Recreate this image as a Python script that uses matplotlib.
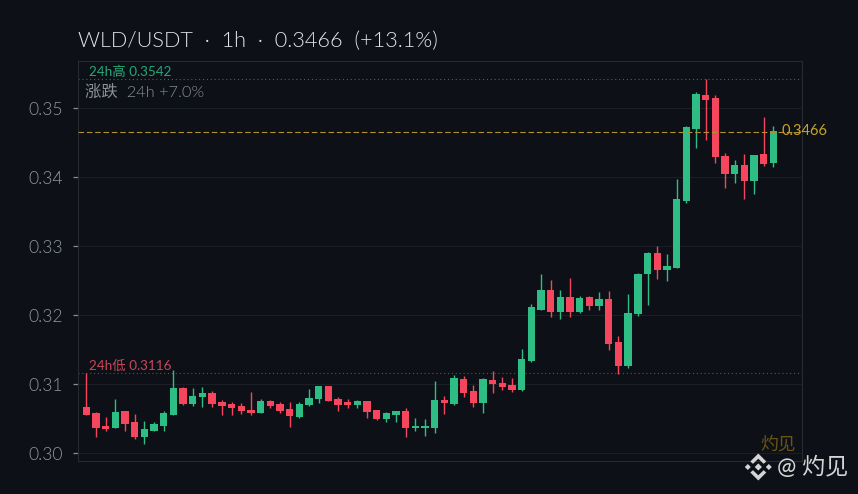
import matplotlib
matplotlib.use("Agg")
import matplotlib.pyplot as plt
from matplotlib.patches import Polygon
from matplotlib.transforms import IdentityTransform

W, H = 858, 494
opens = [.3067,.3058,.3040,.3037,.3061,.3045,.3024,.3032,.3040,.3056,.3095,.3071,.3082,.3087,.3074,.3071,.3069,.3063,
         .3058,.3076,.3071,.3064,.3053,.3070,.3079,.3098,.3079,.3074,.3070,.3076,.3063,.3050,.3056,.3061,.3037,.3037,
         .3037,.3077,.3071,.3108,.3090,.3073,.3106,.3102,.3099,.3092,.3134,.3208,.3237,.3205,.3227,.3205,.3227,.3214,
         .3224,.3161,.3127,.3202,.3260,.3290,.3266,.3269,.3366,.3470,.3519,.3515,.3431,.3405,.3418,.3395,.3434,.3421]
highs = [.3116,.3060,.3053,.3079,.3061,.3057,.3047,.3045,.3061,.3121,.3096,.3094,.3096,.3090,.3077,.3074,.3073,.3089,
         .3079,.3077,.3074,.3074,.3074,.3093,.3098,.3098,.3082,.3079,.3077,.3076,.3063,.3060,.3061,.3066,.3051,.3050,
         .3105,.3083,.3114,.3112,.3099,.3109,.3119,.3111,.3109,.3151,.3216,.3260,.3251,.3237,.3254,.3228,.3228,.3234,
         .3235,.3170,.3231,.3261,.3292,.3300,.3289,.3398,.3474,.3524,.3542,.3519,.3435,.3425,.3434,.3432,.3487,.3474]
lows = [.3056,.3023,.3033,.3037,.3032,.3020,.3014,.3032,.3033,.3056,.3070,.3069,.3067,.3067,.3056,.3056,.3057,.3056,
        .3058,.3066,.3058,.3038,.3051,.3069,.3073,.3076,.3061,.3066,.3066,.3051,.3048,.3045,.3045,.3024,.3032,.3025,
        .3029,.3057,.3070,.3082,.3067,.3058,.3087,.3092,.3089,.3091,.3132,.3207,.3198,.3195,.3198,.3203,.3208,.3208,
        .3150,.3115,.3124,.3199,.3215,.3253,.3250,.3269,.3363,.3443,.3454,.3421,.3385,.3392,.3369,.3376,.3416,.3415]
closes = [.3056,.3037,.3035,.3060,.3043,.3024,.3035,.3043,.3058,.3095,.3071,.3083,.3087,.3071,.3069,.3066,.3061,.3058,
          .3076,.3069,.3061,.3054,.3071,.3080,.3098,.3076,.3070,.3070,.3076,.3060,.3050,.3058,.3061,.3037,.3040,.3040,
          .3077,.3073,.3109,.3087,.3073,.3108,.3100,.3096,.3092,.3137,.3212,.3237,.3205,.3227,.3205,.3225,.3214,.3224,
          .3158,.3127,.3203,.3260,.3290,.3266,.3272,.3369,.3473,.3521,.3512,.3430,.3405,.3418,.3395,.3432,.3419,.3467]
y_ticks = [0.30, 0.31, 0.32, 0.33, 0.34, 0.35]
last_price = 0.3466
high_24h = 0.3542
low_24h = 0.3116

BG = "#0d1117"; UP = "#2ebd85"; DOWN = "#f6465d"; GOLD = "#c9a227"
LAT = ["Lato", "Noto Sans CJK SC", "DejaVu Sans"]

fig = plt.figure(figsize=(W/100, H/100), dpi=100, facecolor=BG)
L, R, T, B = 77.5, 802.3, 60.7, 461.3
ax = fig.add_axes([L/W, 1-B/H, (R-L)/W, (B-T)/H], facecolor=BG)
ax.set_xlim(-0.92, 74.0)
ax.set_ylim(0.29884, 0.35690)

xs = list(range(len(opens)))
cols = [UP if c >= o else DOWN for o, c in zip(opens, closes)]
ax.vlines(xs, lows, highs, colors=cols, linewidth=1.0, zorder=3)
ax.bar(xs, [abs(c-o) for o, c in zip(opens, closes)],
       bottom=[min(o, c) for o, c in zip(opens, closes)],
       width=0.76, color=cols, linewidth=0, zorder=4)

ax.set_yticks(y_ticks)
ax.set_yticklabels([f"{v:.2f}" for v in y_ticks], fontsize=12.6, color="#92969d", family=LAT, fontweight=300)
ax.set_xticks([])
ax.tick_params(axis="y", length=3.6, width=0.9, color="#8a8e94", pad=6.6)
ax.grid(axis="y", color="#1a1f26", linewidth=0.8, zorder=1)
for s in ax.spines.values():
    s.set_color("#262a31"); s.set_linewidth(0.8)

ax.axhline(high_24h, color="#1e7a5a", linewidth=0.8, linestyle=(0, (1, 2.5)), zorder=2)
ax.axhline(low_24h, color="#8c3a47", linewidth=0.8, linestyle=(0, (1, 2.5)), zorder=2)
ax.axhline(last_price, color="#b08f2c", linewidth=0.8, linestyle=(0, (5, 2.5)), zorder=5)

def px(x, y, s, **k):
    fig.text(x/W, 1-y/H, s, family=LAT, va="center", **k)

px(78, 41, "WLD/USDT  ·  1h  ·  0.3466  (+13.1%)", fontsize=15.6, color="#e2e4e7", fontweight=300)
px(89, 71.5, f"24h高 {high_24h:.4f}", fontsize=9.7, color="#24a877")
px(85, 92.5, "涨跌  24h +7.0%", fontsize=11.8, color="#8b8f96", fontweight=300)
px(89, 365.5, f"24h低 {low_24h:.4f}", fontsize=9.7, color="#c8475a")
px(781, 131, f"{last_price:.4f}", fontsize=10.5, color=GOLD)
px(760, 444, "灼见", fontsize=12.8, color="#6b5512")
px(777, 467, "@ 灼见", fontsize=16.6, color="#d5d5d5")

# watermark logo
cx, cy = 758.3, 467.0
def logo(points):
    xy = [(cx+a, H-(cy+b)) for a, b in points]
    fig.add_artist(Polygon(xy, closed=True, transform=IdentityTransform(), facecolor="#d5d5d5", edgecolor="none"))
def diamond(a, b, r):
    logo([(a-r, b), (a, b-r), (a+r, b), (a, b+r)])
diamond(0, 0, 3.6)
diamond(-10.5, 0, 3.0)
diamond(10.5, 0, 3.0)
logo([(0, -13.5), (8, -5.5), (5.3, -3.2), (0, -8.3), (-5.3, -3.2), (-8, -5.5)])
logo([(0, 13.5), (8, 5.5), (5.3, 3.2), (0, 8.3), (-5.3, 3.2), (-8, 5.5)])

fig.savefig("out.png", dpi=100, facecolor=BG)
